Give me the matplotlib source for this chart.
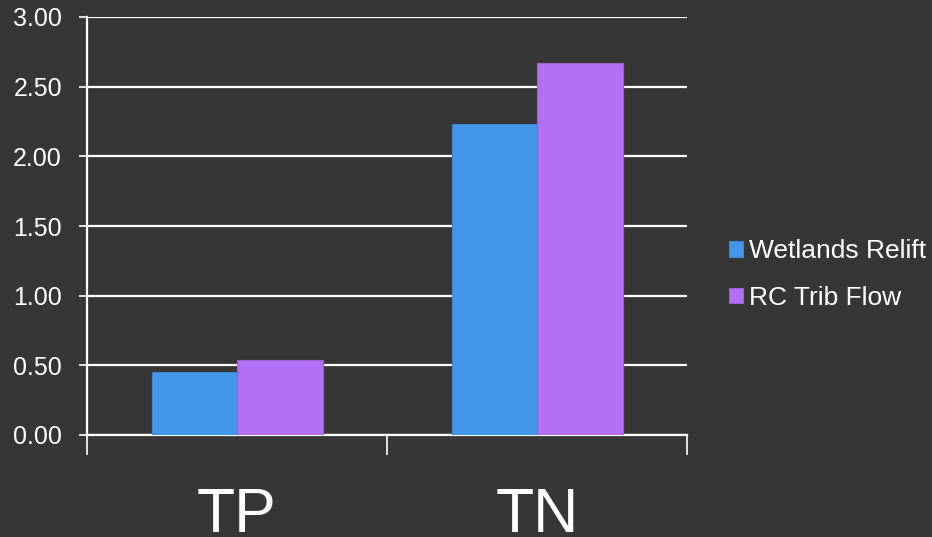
import matplotlib
matplotlib.use("Agg")
import matplotlib.pyplot as plt
import numpy as np

categories = ["TP", "TN"]
series_names = ["Wetlands Relift", "RC Trib Flow"]
wetlands_relift = [0.45, 2.23]
rc_trib_flow = [0.54, 2.67]
y_ticks = [0.0, 0.5, 1.0, 1.5, 2.0, 2.5, 3.0]

bg = "#363636"
colors = ["#4397EB", "#B470F5"]
edges = ["#3d86d0", "#9a5ed6"]

plt.rcParams["font.family"] = ["Liberation Sans", "DejaVu Sans"]

fig = plt.figure(figsize=(9.32, 5.37), dpi=100, facecolor=bg)
ax = fig.add_axes([87 / 932, 1 - 435 / 537, 600 / 932, 418 / 537], facecolor=bg)

x = np.arange(len(categories))
w = 0.285
for i, (vals, name) in enumerate(zip([wetlands_relift, rc_trib_flow], series_names)):
    ax.bar(x + (i - 0.5) * w, vals, width=w, color=colors[i], edgecolor=edges[i],
           linewidth=0.8, label=name, zorder=3)

ax.set_xlim(-0.5, len(categories) - 0.5)
ax.set_ylim(0, 3.0)
ax.set_yticks(y_ticks)
ax.set_yticklabels([f"{v:.2f}" for v in y_ticks], fontsize=18, color="white")
ax.yaxis.grid(True, color="white", linewidth=1.6, zorder=1)
ax.set_axisbelow(True)

# category boundaries as tick marks, labels centred beneath each group
ax.set_xticks([-0.5, 0.5, 1.5])
ax.set_xticklabels([])
ax.tick_params(axis="x", length=14.5, width=1.2, color="white", direction="out")
ax.tick_params(axis="y", length=6, width=1.2, color="white", direction="out", pad=12)
for xi, cat in zip(x, categories):
    ax.text(xi, -0.694, cat, ha="center", va="baseline", fontsize=45, color="white",
            transform=ax.transData, clip_on=False)

for side in ["top", "right"]:
    ax.spines[side].set_visible(False)
for side in ["left", "bottom"]:
    ax.spines[side].set_color("white")
    ax.spines[side].set_linewidth(1.6)

leg = ax.legend(loc="center left", bbox_to_anchor=(1.07, 0.384), frameon=False,
                fontsize=19, labelcolor="white", handlelength=0.53, handleheight=0.53,
                handletextpad=0.23, labelspacing=0.85, borderpad=0, borderaxespad=0)

fig.savefig("out.png", dpi=100, facecolor=bg)
